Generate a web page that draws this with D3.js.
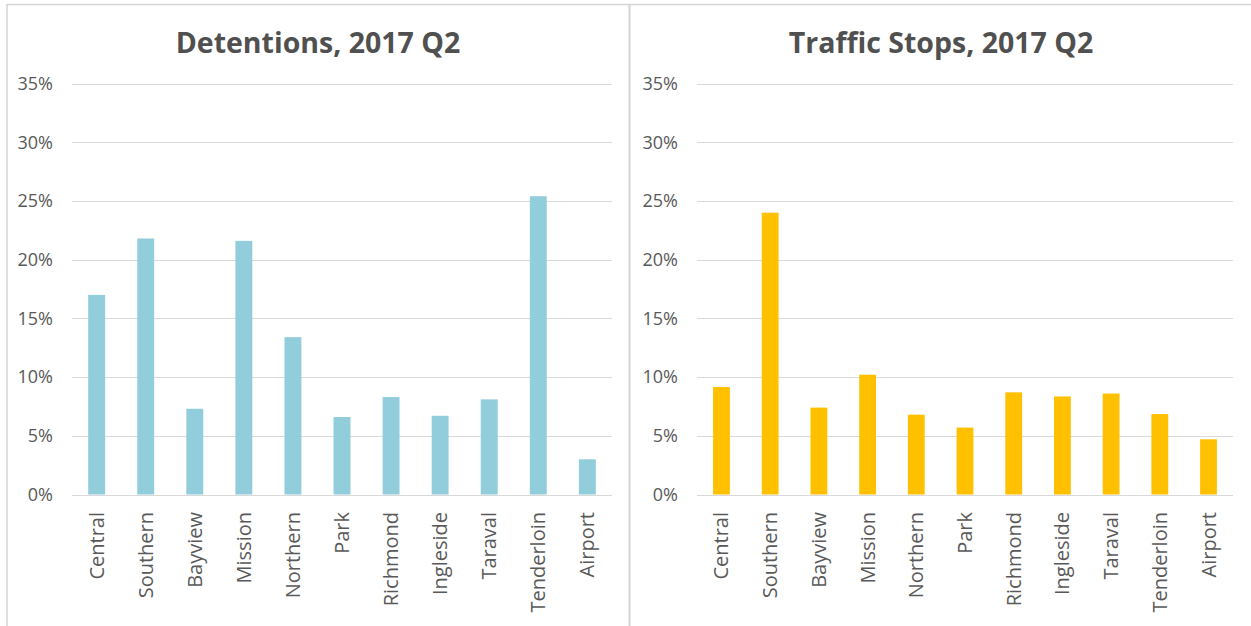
<!DOCTYPE html>
<html>
<head>
<meta charset="utf-8">
<script src="https://cdn.jsdelivr.net/npm/d3@7"></script>
<style>
  html, body { margin: 0; padding: 0; background: #fff; }
  svg { display: block; }
</style>
</head>
<body>
<svg id="chart" width="1251" height="626"></svg>
<script>
const categories = ["Central","Southern","Bayview","Mission","Northern","Park","Richmond","Ingleside","Taraval","Tenderloin","Airport"];
const detentions = [17.0, 21.8, 7.3, 21.6, 13.4, 6.6, 8.3, 6.7, 8.1, 25.4, 3.0];
const trafficStops = [9.15, 24.0, 7.4, 10.2, 6.8, 5.7, 8.7, 8.35, 8.6, 6.85, 4.7];
const yTicks = [0, 5, 10, 15, 20, 25, 30, 35];
const titles = ["Detentions, 2017 Q2", "Traffic Stops, 2017 Q2"];

const svg = d3.select("#chart");
const textColor = "#595959";
const gridColor = "#d9d9d9";

// frame
svg.append("line").attr("x1", 7).attr("x2", 1251).attr("y1", 4.5).attr("y2", 4.5)
  .attr("stroke", "#d4d4d4").attr("stroke-width", 1.5);
svg.append("line").attr("x1", 7).attr("x2", 7).attr("y1", 4).attr("y2", 626)
  .attr("stroke", "#d4d4d4").attr("stroke-width", 1.5);
svg.append("line").attr("x1", 629.5).attr("x2", 629.5).attr("y1", 4).attr("y2", 626)
  .attr("stroke", "#d4d4d4").attr("stroke-width", 2);

const panels = [
  { title: titles[0], values: detentions, color: "#92cddc", x0: 72, x1: 612, titleX: 318 },
  { title: titles[1], values: trafficStops, color: "#ffc000", x0: 697, x1: 1233, titleX: 941 }
];

const y = d3.scaleLinear().domain([0, 35]).range([494.5, 83.5]);

panels.forEach(p => {
  const g = svg.append("g");
  const x = d3.scaleBand().domain(categories).range([p.x0, p.x1]).paddingInner(0.655).paddingOuter(0.33);

  // gridlines
  g.selectAll("line.grid").data(yTicks).join("line")
    .attr("class", "grid")
    .attr("x1", p.x0).attr("x2", p.x1)
    .attr("y1", d => Math.round(y(d)) + 0.5).attr("y2", d => Math.round(y(d)) + 0.5)
    .attr("stroke", gridColor).attr("stroke-width", 1);

  // y tick labels
  g.selectAll("text.ytick").data(yTicks).join("text")
    .attr("class", "ytick")
    .attr("x", p.x0 - 19)
    .attr("y", d => y(d))
    .attr("dy", "0.35em")
    .attr("text-anchor", "end")
    .attr("font-family", "'Open Sans', sans-serif")
    .attr("font-size", 18)
    .attr("fill", textColor)
    .text(d => d + "%");

  // bars
  g.selectAll("rect.bar").data(p.values).join("rect")
    .attr("class", "bar")
    .attr("x", (d, i) => x(categories[i]))
    .attr("width", x.bandwidth())
    .attr("y", d => y(d))
    .attr("height", d => y(0) - y(d))
    .attr("fill", p.color);

  // category labels
  g.selectAll("text.cat").data(categories).join("text")
    .attr("class", "cat")
    .attr("transform", d => `translate(${x(d) + x.bandwidth() / 2 + 7},512) rotate(-90)`)
    .attr("text-anchor", "end")
    .attr("font-family", "'Open Sans', sans-serif")
    .attr("font-size", 20)
    .attr("fill", textColor)
    .text(d => d);

  // title
  g.append("text")
    .attr("x", p.titleX)
    .attr("y", 53)
    .attr("text-anchor", "middle")
    .attr("font-family", "'Open Sans', sans-serif")
    .attr("font-weight", "bold")
    .attr("font-size", 28.5)
    .attr("fill", "#505050")
    .text(p.title);
});
</script>
</body>
</html>
